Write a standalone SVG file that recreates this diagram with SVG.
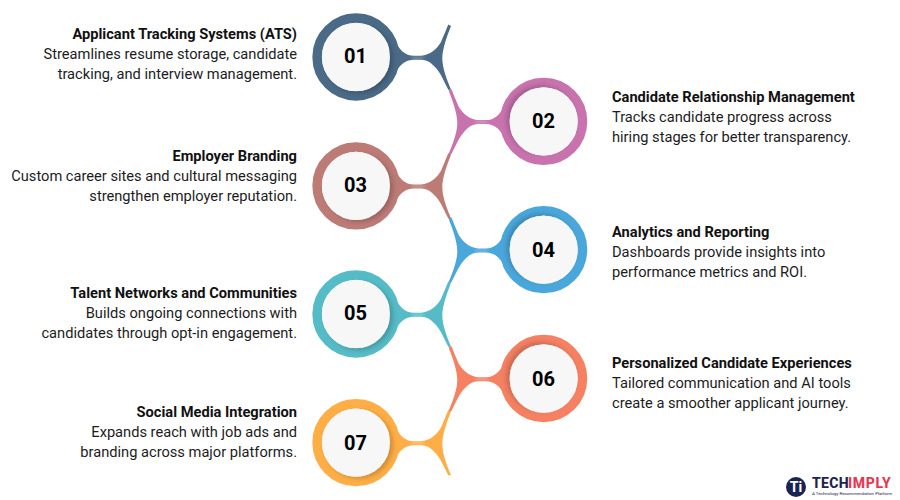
<svg xmlns="http://www.w3.org/2000/svg" width="900" height="500" viewBox="0 0 900 500">
<style>
text{font-family:Roboto,"Liberation Sans",sans-serif}
.t{font-size:14.65px;font-weight:700;fill:#111}
.d{font-size:14.65px;fill:#1c1c1c}
.e{text-anchor:end}
.n{font-size:20px;font-weight:700;fill:#000;text-anchor:middle}
.inner{fill:#f7f7f7}
.ring{fill:none;stroke-width:9.5}
.c1{fill:#4a6a87}.c2{fill:#c973ae}.c3{fill:#bd7b76}.c4{fill:#4aa7db}.c5{fill:#55bcc7}.c6{fill:#f58062}.c7{fill:#ffae45}
.r1{stroke:#4a6a87}.r2{stroke:#c973ae}.r3{stroke:#bd7b76}.r4{stroke:#4aa7db}.r5{stroke:#55bcc7}.r6{stroke:#f58062}.r7{stroke:#ffae45}
</style>
<defs>
<filter id="sl" x="-30%" y="-30%" width="160%" height="160%"><feDropShadow dx="3" dy="2" stdDeviation="2.5" flood-color="#000" flood-opacity=".2"/></filter>
<filter id="sr" x="-30%" y="-30%" width="160%" height="160%"><feDropShadow dx="-3" dy="-2" stdDeviation="2.5" flood-color="#000" flood-opacity=".2"/></filter>
<filter id="b" x="-50%" y="-50%" width="200%" height="200%"><feGaussianBlur stdDeviation=".8"/></filter>
<path id="arm" d="M38,-18C43,-7 49,-1.3 58,-1.3L65,-1.3C74,-1.8 81,-8 85,-15C88,-22 90,-27 92.3,-32.5L95,-31C91,-21 86.3,-8 86.3,1.3C86.3,11 91,23 95,32.5L92.5,33C89,27 86,18 80,11C76,6.5 72,2.9 65,2.7L58,2.7C49,2.7 43,8 38,19L30,0Z"/>
<g id="glint"><ellipse cx="62" cy=".7" rx="7" ry="1" fill="#fff" opacity=".3" filter="url(#b)"/><path d="M83,-8V9" stroke="#000" stroke-opacity=".12" stroke-width="1.2" fill="none" filter="url(#b)"/></g>
</defs>
<g id="connectors">
<g class="c1" transform="translate(356 57)"><use href="#arm"/><use href="#glint"/></g>
<g class="c2" transform="translate(543.6 121.4) scale(-1 1)"><use href="#arm"/><use href="#glint"/></g>
<g class="c3" transform="translate(356 185.8)"><use href="#arm"/><use href="#glint"/></g>
<g class="c4" transform="translate(543.6 249.7) scale(-1 1)"><use href="#arm"/><use href="#glint"/></g>
<g class="c5" transform="translate(356 314)"><use href="#arm"/><use href="#glint"/></g>
<g class="c6" transform="translate(543.6 378.5) scale(-1 1)"><use href="#arm"/><use href="#glint"/></g>
<g class="c7" transform="translate(356 442.6)"><use href="#arm"/><use href="#glint"/></g>
</g>
<g id="node-01"><circle class="ring r1" cx="356" cy="57" r="38.9"/><circle class="inner" cx="356" cy="57" r="34" filter="url(#sl)"/><text class="n" x="355.5" y="62.8">01</text>
<text class="t e" x="297" y="39">Applicant Tracking Systems (ATS)</text><text class="d e" x="297" y="59">Streamlines resume storage, candidate</text><text class="d e" x="297" y="79">tracking, and interview management.</text></g>
<g id="node-02"><circle class="ring r2" cx="543.6" cy="121.4" r="38.9"/><circle class="inner" cx="543.6" cy="121.4" r="34" filter="url(#sr)"/><text class="n" x="543.5" y="128.2">02</text>
<text class="t" x="612" y="102">Candidate Relationship Management</text><text class="d" x="612" y="122">Tracks candidate progress across</text><text class="d" x="612" y="142">hiring stages for better transparency.</text></g>
<g id="node-03"><circle class="ring r3" cx="356" cy="185.8" r="38.9"/><circle class="inner" cx="356" cy="185.8" r="34" filter="url(#sl)"/><text class="n" x="355.5" y="192.3">03</text>
<text class="t e" x="297" y="161">Employer Branding</text><text class="d e" x="297" y="181">Custom career sites and cultural messaging</text><text class="d e" x="297" y="201">strengthen employer reputation.</text></g>
<g id="node-04"><circle class="ring r4" cx="543.6" cy="249.7" r="38.9"/><circle class="inner" cx="543.6" cy="249.7" r="34" filter="url(#sr)"/><text class="n" x="543.5" y="256.6">04</text>
<text class="t" x="612" y="237">Analytics and Reporting</text><text class="d" x="612" y="257">Dashboards provide insights into</text><text class="d" x="612" y="277">performance metrics and ROI.</text></g>
<g id="node-05"><circle class="ring r5" cx="356" cy="314" r="38.9"/><circle class="inner" cx="356" cy="314" r="34" filter="url(#sl)"/><text class="n" x="355.5" y="320.3">05</text>
<text class="t e" x="297" y="298">Talent Networks and Communities</text><text class="d e" x="297" y="318">Builds ongoing connections with</text><text class="d e" x="297" y="338">candidates through opt-in engagement.</text></g>
<g id="node-06"><circle class="ring r6" cx="543.6" cy="378.5" r="38.9"/><circle class="inner" cx="543.6" cy="378.5" r="34" filter="url(#sr)"/><text class="n" x="543.5" y="385.8">06</text>
<text class="t" x="612" y="368">Personalized Candidate Experiences</text><text class="d" x="612" y="388">Tailored communication and AI tools</text><text class="d" x="612" y="408">create a smoother applicant journey.</text></g>
<g id="node-07"><circle class="ring r7" cx="356" cy="442.6" r="38.9"/><circle class="inner" cx="356" cy="442.6" r="34" filter="url(#sl)"/><text class="n" x="355.5" y="449.8">07</text>
<text class="t e" x="297" y="417">Social Media Integration</text><text class="d e" x="297" y="437">Expands reach with job ads and</text><text class="d e" x="297" y="457">branding across major platforms.</text></g>
<g id="logo">
<circle cx="796" cy="487" r="10" fill="#1d2350"/>
<text x="796" y="492" font-size="14" font-weight="700" fill="#fff" text-anchor="middle">Ti</text>
<text x="812" y="487.5" font-size="14" font-weight="800" fill="#1d2350" letter-spacing=".3">TECH</text>
<text x="848" y="487.5" font-size="14" font-weight="800" fill="#e8384f" letter-spacing=".7">IMPLY</text>
<text x="812" y="495" font-size="4.4" fill="#1d2350">A Technology Recommendation Platform</text>
</g>
</svg>
